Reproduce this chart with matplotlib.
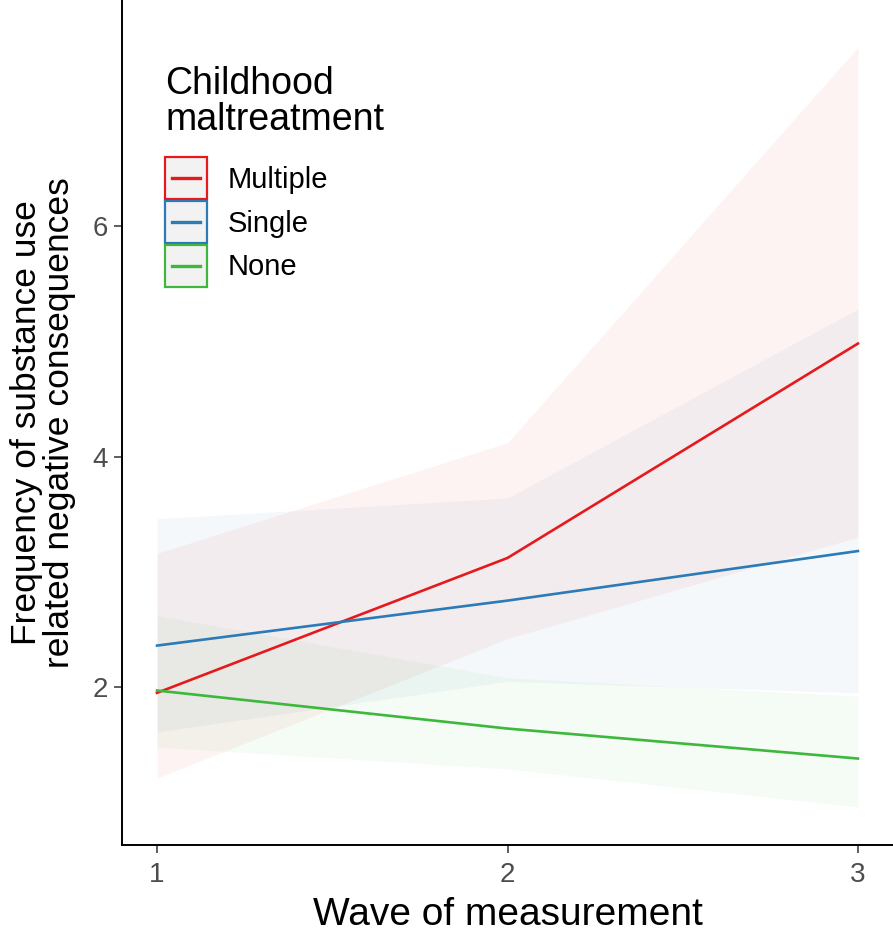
import matplotlib.pyplot as plt
from matplotlib.legend_handler import HandlerBase
from matplotlib.patches import Rectangle
from matplotlib.lines import Line2D

plt.rcParams["font.family"] = ["Liberation Sans", "DejaVu Sans"]

waves = [1, 2, 3]
groups = ["Multiple", "Single", "None"]
colors = ["#E41A1C", "#2C7BB6", "#3DB83D"]

mean_multiple = [1.95, 3.12, 4.98]
low_multiple = [1.21, 2.42, 3.30]
high_multiple = [3.16, 4.12, 7.55]

mean_single = [2.36, 2.75, 3.18]
low_single = [1.61, 2.05, 1.95]
high_single = [3.46, 3.64, 5.28]

mean_none = [1.97, 1.64, 1.38]
low_none = [1.48, 1.29, 0.96]
high_none = [2.62, 2.08, 1.92]

means = [mean_multiple, mean_single, mean_none]
lows = [low_multiple, low_single, low_none]
highs = [high_multiple, high_single, high_none]


class BoxLine(HandlerBase):
    # square grey key with coloured border and a short line through it
    def create_artists(self, legend, orig, xd, yd, w, h, fs, trans):
        c = orig.get_color()
        cy = -yd + h / 2
        box = Rectangle((-xd, cy - w / 2), w, w, facecolor="#F2F2F2",
                        edgecolor=c, lw=1.6, transform=trans)
        seg = Line2D([-xd + 0.17 * w, -xd + 0.83 * w], [cy, cy],
                     color=c, lw=2.4, transform=trans)
        return [box, seg]


fig = plt.figure(figsize=(8.93, 9.32), dpi=100)
ax = fig.add_axes([122 / 893, 87 / 932, 1 - 122 / 893, 1 - 87 / 932])

handles = []
for name, col, m, lo, hi in zip(groups, colors, means, lows, highs):
    ax.fill_between(waves, lo, hi, color=col, alpha=0.05, lw=0)
    ln, = ax.plot(waves, m, color=col, lw=1.9, label=name)
    handles.append(ln)

ax.set_xlim(0.9, 3.1)
ax.set_ylim(0.63, 7.96)
ax.set_xticks([1, 2, 3])
ax.set_yticks([2, 4, 6])
ax.tick_params(labelsize=20, labelcolor="#4D4D4D", length=6, width=1.1,
               color="#333333", pad=4)
ax.tick_params(axis="x", pad=6)
for s in ["top", "right"]:
    ax.spines[s].set_visible(False)
for s in ["left", "bottom"]:
    ax.spines[s].set_linewidth(1.4)

ax.set_xlabel("Wave of measurement", fontsize=28, labelpad=7)
ax.set_ylabel("Frequency of substance use\nrelated negative consequences",
              fontsize=25.5, labelpad=12, linespacing=1.0)

fig.text(165 / 893, 1 - 66 / 932, "Childhood\nmaltreatment", fontsize=27,
         ha="left", va="top", linespacing=1.0)

leg = ax.legend(handles=handles, handler_map={Line2D: BoxLine()}, fontsize=21,
                loc="upper left", bbox_to_anchor=(165 / 893, 1 - 161 / 932),
                bbox_transform=fig.transFigure, frameon=False, borderpad=0,
                borderaxespad=0, handlelength=1.45, handleheight=1.45,
                labelspacing=0.31, handletextpad=0.7)

fig.savefig("out.png", dpi=100)
